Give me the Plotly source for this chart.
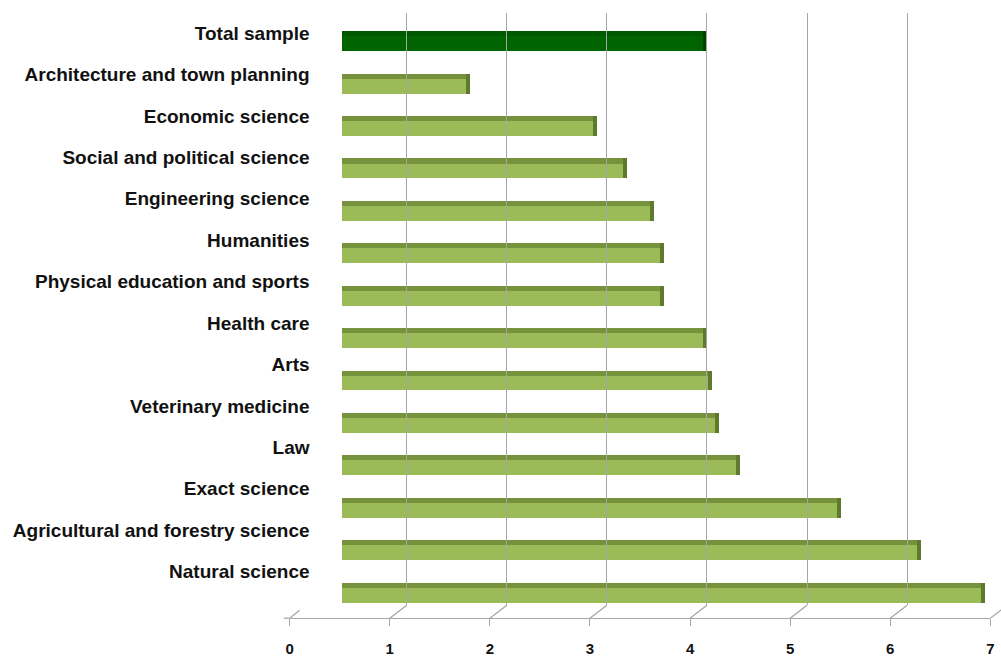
import plotly.graph_objects as go

# ---- data ----
categories = [
    "Total sample",
    "Architecture and town planning",
    "Economic science",
    "Social and political science",
    "Engineering science",
    "Humanities",
    "Physical education and sports",
    "Health care",
    "Arts",
    "Veterinary medicine",
    "Law",
    "Exact science",
    "Agricultural and forestry science",
    "Natural science",
]
values = [4.05, 1.68, 2.95, 3.25, 3.52, 3.62, 3.62, 4.05, 4.10, 4.17, 4.38, 5.38, 6.18, 6.82]
tick_values = [0, 1, 2, 3, 4, 5, 6, 7]
tick_labels = ["0", "1", "2", "3", "4", "5", "6", "7"]

# ---- styling ----
W, H = 1001, 657
FRONT_FACE = "#9BBB59"
TOP_FACE = "#76923C"
SIDE_FACE = "#5E7A2C"
TOTAL_FRONT = "#006400"
TOTAL_TOP = "#005800"
TOTAL_SIDE = "#004400"
GRID = "#A6A6A6"
FONT = "Liberation Sans, Arial, sans-serif"
BAR_START = 0.44  # bars in the original begin a little right of the wall
PX_PER_UNIT = 100.9


def px(x):
    return x / W


def py(y):
    return 1 - y / H


front_colors = [TOTAL_FRONT if c == "Total sample" else FRONT_FACE for c in categories]
top_colors = [TOTAL_TOP if c == "Total sample" else TOP_FACE for c in categories]
side_colors = [TOTAL_SIDE if c == "Total sample" else SIDE_FACE for c in categories]

FULL_W = 0.47
TOP_W = 0.12
SIDE_W = 0.04

fig = go.Figure()

# dark full bar (top face shows as a strip)
fig.add_trace(go.Bar(
    y=categories, x=[v - BAR_START for v in values], base=BAR_START, orientation="h",
    width=FULL_W, offset=-FULL_W / 2, marker=dict(color=top_colors, line=dict(width=0)),
    xaxis="x2", yaxis="y2", hoverinfo="skip", showlegend=False,
))
# front face
fig.add_trace(go.Bar(
    y=categories, x=[v - BAR_START for v in values], base=BAR_START, orientation="h",
    width=FULL_W - TOP_W, offset=-FULL_W / 2 + TOP_W,
    marker=dict(color=front_colors, line=dict(width=0)),
    xaxis="x2", yaxis="y2", showlegend=False,
    customdata=values, hovertemplate="%{y}: %{customdata}<extra></extra>",
))
# side face
fig.add_trace(go.Bar(
    y=categories, x=[SIDE_W] * len(values), base=values, orientation="h",
    width=FULL_W, offset=-FULL_W / 2,
    marker=dict(color=side_colors, line=dict(width=0)),
    xaxis="x2", yaxis="y2", hoverinfo="skip", showlegend=False,
))
# dummies so the helper subplots exist
fig.add_trace(go.Scatter(x=[None], y=[None], xaxis="x3", yaxis="y3",
                         showlegend=False, hoverinfo="skip"))
fig.add_trace(go.Scatter(x=[None], y=[None], xaxis="x", yaxis="y",
                         showlegend=False, hoverinfo="skip"))

# geometry (pixels)
FRONT_X0 = 288
MID_X0 = 296
BACK_X0 = 305
FLOOR_FRONT_Y = 621
FLOOR_BACK_Y = 608
GRID_TOP_Y = 13

front_xmax = 7
mid_xmax = (W - MID_X0) / PX_PER_UNIT
back_xmax = (W - BACK_X0) / PX_PER_UNIT

label_top, label_bot = 12.5, 595.0
bar_top, bar_bot = 20.5, 617.0
n = len(categories)

fig.update_layout(
    width=W, height=H, margin=dict(l=0, r=0, t=0, b=0),
    paper_bgcolor="white", plot_bgcolor="rgba(0,0,0,0)",
    barmode="overlay", bargap=0,
    font=dict(family=FONT, color="#111111"),
    xaxis=dict(
        domain=[px(FRONT_X0), min(1.0, px(FRONT_X0 + 7 * PX_PER_UNIT))], range=[0, front_xmax],
        anchor="free", position=py(FLOOR_FRONT_Y),
        tickvals=tick_values, ticktext=tick_labels,
        ticks="outside", ticklen=7, tickcolor=GRID, tickwidth=1.3,
        showline=True, linecolor=GRID, linewidth=1.3, showgrid=False, zeroline=False,
        tickfont=dict(family=FONT, size=15, color="#111111", weight="bold"),
        ticklabelstandoff=10, fixedrange=True,
    ),
    yaxis=dict(
        domain=[py(label_bot), py(label_top)], range=[n - 0.5, -0.5],
        anchor="free", position=px(308),
        tickvals=list(range(n)), ticktext=categories, ticks="",
        showline=False, showgrid=False, zeroline=False,
        tickfont=dict(family=FONT, size=19, color="#111111", weight="bold"),
        fixedrange=True,
    ),
    xaxis2=dict(
        domain=[px(MID_X0), 1.0], range=[0, mid_xmax], anchor="y2",
        visible=False, fixedrange=True,
    ),
    yaxis2=dict(
        domain=[py(bar_bot), py(bar_top)], type="category",
        categoryorder="array", categoryarray=categories,
        range=[n - 0.5, -0.5], anchor="x2", visible=False, fixedrange=True,
    ),
    xaxis3=dict(
        domain=[px(BACK_X0), 1.0], range=[0, back_xmax], anchor="y3",
        tickvals=[1, 2, 3, 4, 5, 6], showticklabels=False, ticks="",
        showgrid=True, gridcolor=GRID, gridwidth=1.3, zeroline=False, showline=False,
        fixedrange=True,
    ),
    yaxis3=dict(
        domain=[py(FLOOR_BACK_Y), py(GRID_TOP_Y)], range=[0, 1], anchor="x3",
        visible=False, fixedrange=True,
    ),
)

# slanted floor connectors from back wall gridlines to the front axis
shapes = []
for k in tick_values:
    bx = BACK_X0 + k * PX_PER_UNIT
    fx = FRONT_X0 + k * PX_PER_UNIT
    shapes.append(dict(type="line", xref="paper", yref="paper",
                       x0=px(bx if k > 0 else 298), y0=py(FLOOR_BACK_Y if k > 0 else 613),
                       x1=px(fx), y1=py(FLOOR_FRONT_Y),
                       line=dict(color=GRID, width=1.3), layer="below"))
# small stub left of the origin
shapes.append(dict(type="line", xref="paper", yref="paper",
                   x0=px(FRONT_X0 - 6), y0=py(FLOOR_FRONT_Y), x1=px(FRONT_X0), y1=py(FLOOR_FRONT_Y),
                   line=dict(color=GRID, width=1.3)))
fig.update_layout(shapes=shapes)

fig.write_html("out.html")
